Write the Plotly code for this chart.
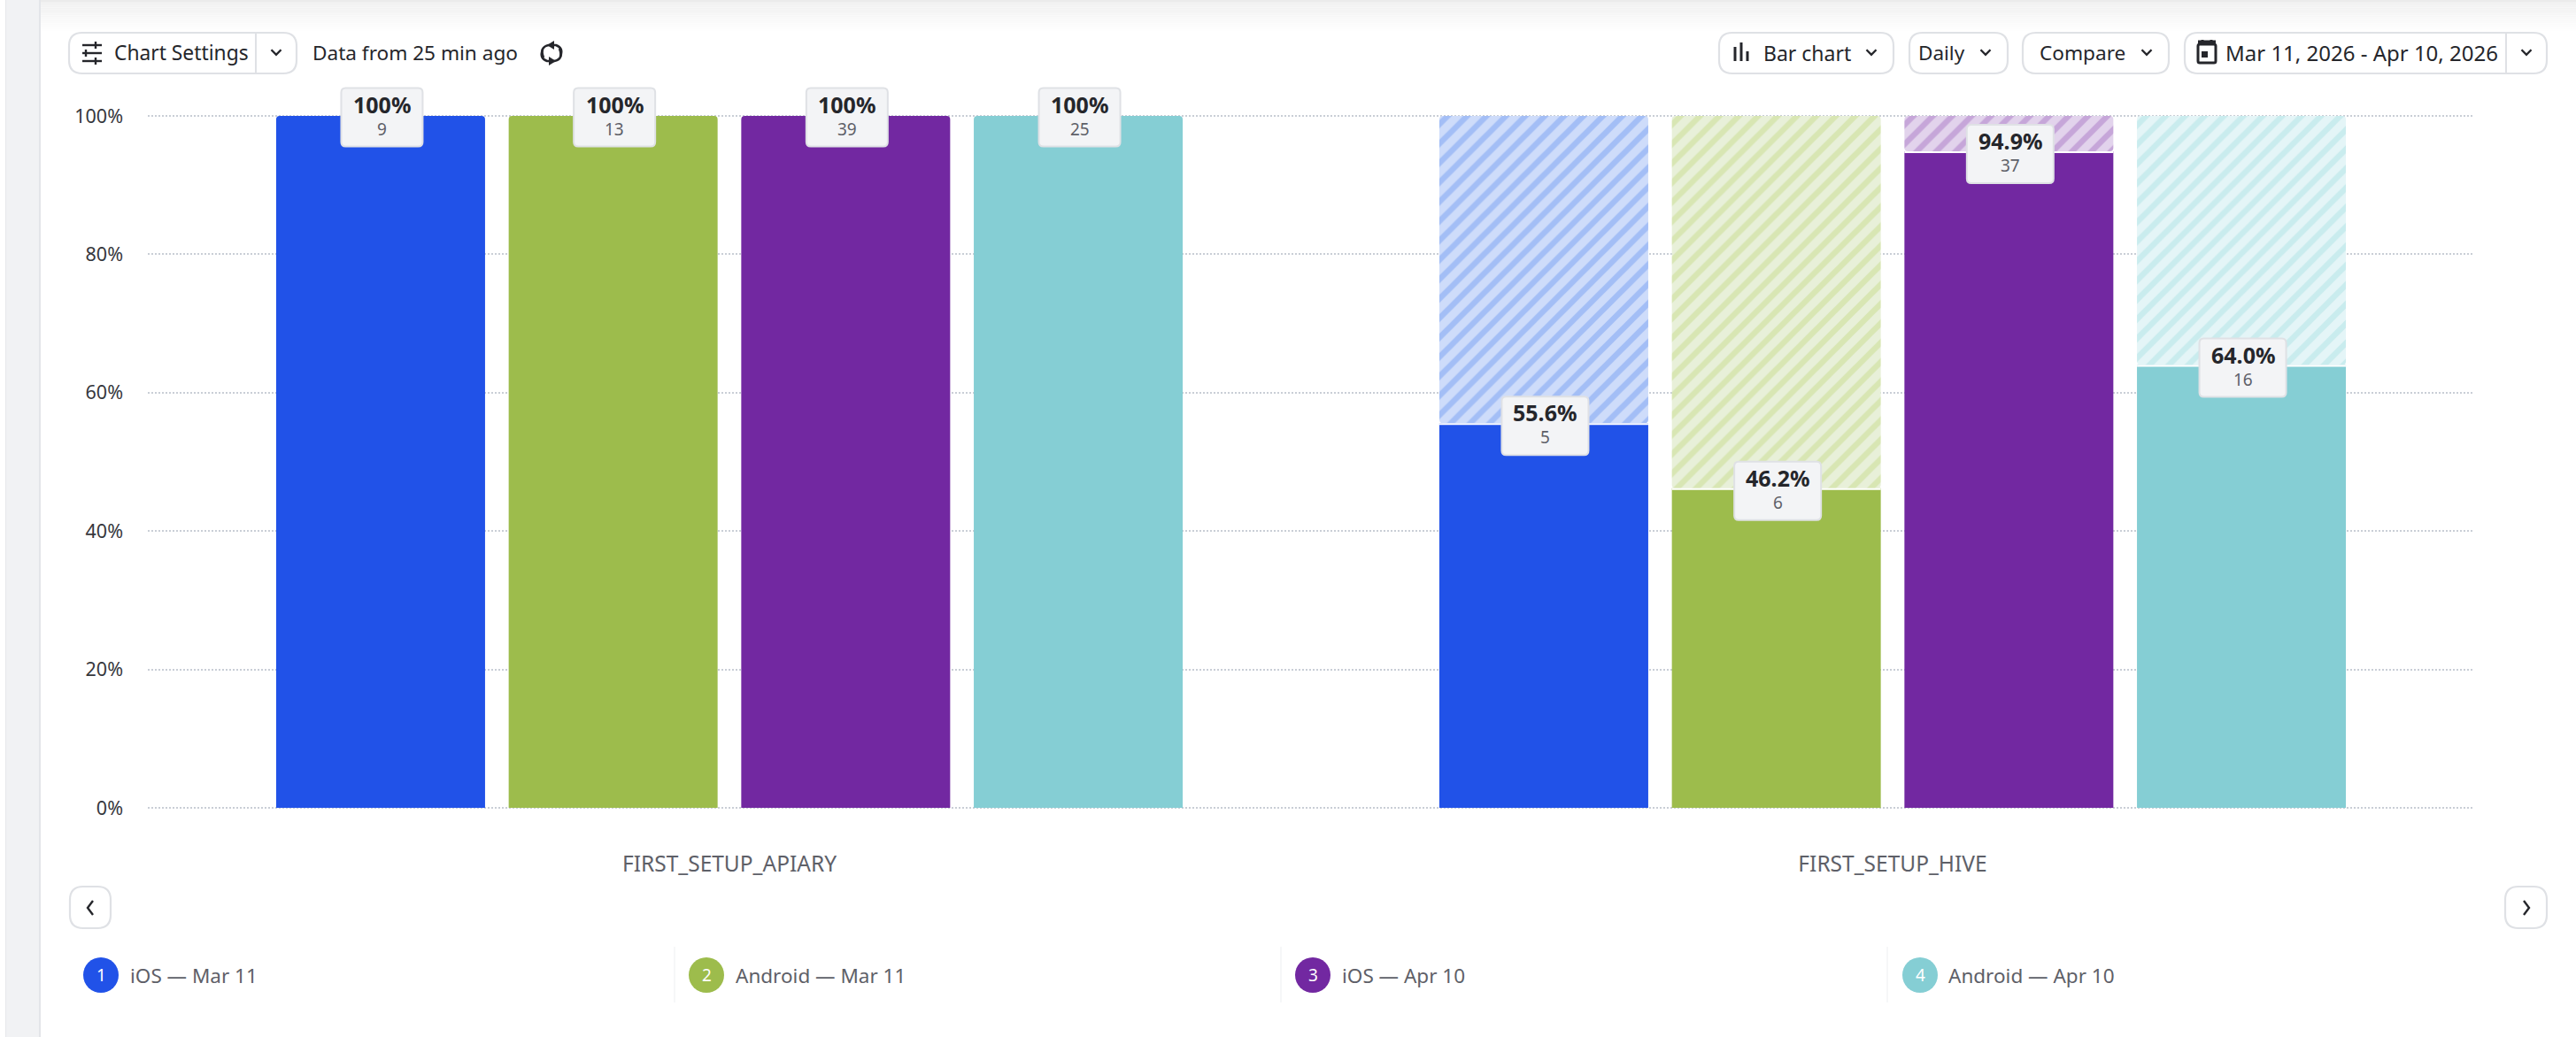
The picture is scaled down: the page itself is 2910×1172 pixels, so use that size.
import plotly.graph_objects as go

# ---- chart data ----
categories = ["FIRST_SETUP_APIARY", "FIRST_SETUP_HIVE"]
series_names = ["iOS — Mar 11", "Android — Mar 11", "iOS — Apr 10", "Android — Apr 10"]
apiary_pct = [100, 100, 100, 100]
hive_pct = [55.6, 46.2, 94.9, 64.0]
apiary_counts = [9, 13, 39, 25]
hive_counts = [5, 6, 37, 16]
pct_labels = [["100%", "100%", "100%", "100%"], ["55.6%", "46.2%", "94.9%", "64.0%"]]
y_ticks = [0, 20, 40, 60, 80, 100]

# ---- palette ----
solid = ["#2152E8", "#9DBC4C", "#7228A1", "#85CED4"]
hatch_bg = ["#CEDCFA", "#E8F0D9", "#E2D3EC", "#E4F5F7"]
hatch_fg = ["#A3BEF6", "#D8E6B3", "#C6A6D9", "#C9ECEE"]
INK = "#25262B"
MUTED = "#5E6068"
EDGE = "#DFE1E5"
FONT = "Noto Sans"

# ---- canvas and plot area, in page pixels ----
W, H = 2910, 1172
LEFT, RIGHT = 167, 2795
Y100, Y0 = 131, 913          # rows of the 100% and 0% gridlines
PAD_TOP, PAD_BOTTOM = 44, 8  # headroom so the chips on the top line stay inside the plot
TOP, BOTTOM = Y100 - PAD_TOP, Y0 + PAD_BOTTOM
PX_PER_PCT = (Y0 - Y100) / 100
SLOT = 262.7     # horizontal step between neighbouring bars
BAR_WIDTH = 236
SEAM = 2         # white seam at the top of a solid bar, in pixels
CHIP_NUDGE = 1.5 # chips sit slightly right of the bar's centre


def X(px):
    return (px - LEFT) / (RIGHT - LEFT)


def Y(py):
    return (BOTTOM - py) / (BOTTOM - TOP)


def pt(x, y):
    return f"{X(x):.6f},{Y(y):.6f}"


def rounded(x0, y0, x1, y1, r):
    return (
        f"M{pt(x0 + r, y0)} L{pt(x1 - r, y0)} Q{pt(x1, y0)} {pt(x1, y0 + r)} "
        f"L{pt(x1, y1 - r)} Q{pt(x1, y1)} {pt(x1 - r, y1)} "
        f"L{pt(x0 + r, y1)} Q{pt(x0, y1)} {pt(x0, y1 - r)} "
        f"L{pt(x0, y0 + r)} Q{pt(x0, y0)} {pt(x0 + r, y0)} Z"
    )


def polyline(points):
    return "M" + " L".join(pt(x, y) for x, y in points)


shapes = []
notes = []


def paper_shape(path, line=None, width=0, fill="rgba(0,0,0,0)", layer="above"):
    shapes.append(dict(
        type="path", xref="paper", yref="paper", path=path, fillcolor=fill, layer=layer,
        line=dict(color=line or "rgba(0,0,0,0)", width=width),
    ))


def rect(x0, y0, x1, y1, fill, layer="below"):
    shapes.append(dict(
        type="rect", xref="paper", yref="paper", x0=X(x0), x1=X(x1), y0=Y(y0), y1=Y(y1),
        fillcolor=fill, line=dict(width=0), layer=layer,
    ))


def label(x, y, text, size=23, color=INK, anchor="left"):
    notes.append(dict(
        xref="paper", yref="paper", x=X(x), y=Y(y), text=text, showarrow=False,
        xanchor=anchor, yanchor="middle", font=dict(family=FONT, size=size, color=color),
    ))


def chevron(cx, cy, size=5.5, color=INK):
    paper_shape(polyline([(cx - size, cy - size / 2), (cx, cy + size / 2), (cx + size, cy - size / 2)]),
                line=color, width=2.4)


def button(x0, x1, y0=37, y1=83, divider=None, r=15):
    paper_shape(rounded(x0, y0, x1, y1, r), line=EDGE, width=2.2, fill="#FFFFFF")
    if divider:
        paper_shape(polyline([(divider, y0), (divider, y1)]), line=EDGE, width=2)


# ---- page chrome: left rail and soft shadow along the top ----
rect(6, 0, 45, H, "#F1F2F4")
rect(6, 0, 7, H, "#E6E8EB")
rect(44, 0, 46, H, "#E3E5E9")
STEPS = 16
for k in range(STEPS):
    shade = int(241 + (255 - 241) * k / (STEPS - 1))
    rect(46, 2 + k * 2.2, W, 2 + (k + 1) * 2.2, f"rgb({shade},{shade},{shade})")
rect(46, 0, W, 2, "#EBEBEB")

# ---- toolbar ----
button(78, 335, divider=289)
for ly, kx in [(51, 108), (60, 97), (69, 108)]:
    paper_shape(polyline([(93, ly), (115, ly)]), line=INK, width=2.4)
    paper_shape(polyline([(kx, ly - 4), (kx, ly + 4)]), line=INK, width=2.4)
label(127, 60, "Chart Settings", size=22.8)
chevron(312, 59)
label(351, 60, "Data from 25 min ago", size=22.6)
paper_shape(f"M{pt(614, 65)} Q{pt(609, 53)} {pt(620, 51)} L{pt(628, 51)} Q{pt(637, 54)} {pt(633, 64)}",
            line=INK, width=2.6)
paper_shape(f"M{pt(632, 55)} Q{pt(637, 67)} {pt(626, 69)} L{pt(618, 69)} Q{pt(609, 66)} {pt(613, 56)}",
            line=INK, width=2.6)
paper_shape(polyline([(626, 46), (618, 51), (626, 56)]) + " Z", fill=INK)
paper_shape(polyline([(620, 64), (628, 69), (620, 74)]) + " Z", fill=INK)

button(1942, 2139)
for bx, top in [(1960, 53), (1967, 48), (1974, 58)]:
    paper_shape(polyline([(bx, top), (bx, 69)]), line=INK, width=3)
label(1990, 60, "Bar chart")
chevron(2114, 59)
button(2157, 2268)
label(2165, 60, "Daily", size=22.5)
chevron(2243, 59)
button(2285, 2450)
label(2302, 60, "Compare", size=22.6)
chevron(2425, 59)
button(2468, 2877, divider=2831)
paper_shape(rounded(2483, 50, 2503, 71, 2), line=INK, width=3)
paper_shape(polyline([(2483, 48), (2503, 48)]), line=INK, width=5)
paper_shape(polyline([(2488, 45), (2488, 51)]), line=INK, width=3)
paper_shape(polyline([(2498, 45), (2498, 51)]), line=INK, width=3)
rect(2487, 58, 2494, 65, INK, layer="above")
label(2512, 60, "Mar 11, 2026 - Apr 10, 2026", size=24)
chevron(2854, 59)

# ---- pager buttons under the plot ----
button(79, 125, 1002, 1049)
paper_shape(polyline([(105, 1018), (99, 1026), (105, 1034)]), line=INK, width=2.4)
button(2830, 2877, 1002, 1049)
paper_shape(polyline([(2851, 1018), (2857, 1026), (2851, 1034)]), line=INK, width=2.4)

# ---- legend row ----
legend_circle_x = [114, 798, 1483, 2169]
legend_text_x = [145, 829, 1514, 2199]
legend_divider_x = [None, 762, 1447, 2132]
for i, name in enumerate(series_names):
    if legend_divider_x[i]:
        rect(legend_divider_x[i] - 0.5, 1070, legend_divider_x[i] + 0.5, 1133, "#EEEFF1")
    cx = legend_circle_x[i]
    shapes.append(dict(
        type="circle", xref="paper", yref="paper", x0=X(cx - 20), x1=X(cx + 20),
        y0=Y(1122), y1=Y(1082), fillcolor=solid[i], line=dict(width=0), layer="above",
    ))
    label(cx, 1102, str(i + 1), size=19, color="#FFFFFF", anchor="center")
    label(legend_text_x[i], 1102, name, size=22.5, color=MUTED)

# ---- bars ----
fig = go.Figure()
pct_by_category = [apiary_pct, hive_pct]
count_by_category = [apiary_counts, hive_counts]
for i, name in enumerate(series_names):
    for j, cat in enumerate(categories):
        v = pct_by_category[j][i]
        fig.add_trace(go.Bar(
            x=[cat], y=[v], name=name, offsetgroup=str(i), alignmentgroup="all", showlegend=False,
            marker=dict(color=solid[i], line=dict(width=0), cornerradius=4 if v >= 100 else 0),
        ))
        if v < 100:
            fig.add_trace(go.Bar(
                x=[cat], y=[100 - v], base=[v], offsetgroup=str(i),
                alignmentgroup="all", showlegend=False,
                marker=dict(
                    color=hatch_bg[i], cornerradius=4, line=dict(width=0),
                    pattern=dict(shape="/", bgcolor=hatch_bg[i], fgcolor=hatch_fg[i],
                                 fgopacity=1, size=15.5, solidity=0.42),
                ),
            ))
            # white seam between the solid bar and its hatched remainder
            shift = (i - 1.5) * SLOT
            half = BAR_WIDTH / 2
            shapes.append(dict(
                type="path", xref="x", yref="y", xsizemode="pixel", ysizemode="pixel",
                xanchor=cat, yanchor=v, layer="above", fillcolor="#FFFFFF", line=dict(width=0),
                path=(f"M{shift - half},0 L{shift + half},0 L{shift + half},{-SEAM} "
                      f"L{shift - half},{-SEAM} Z"),
            ))

# ---- value chips centred on each bar's top ----
for j, cat in enumerate(categories):
    for i in range(len(series_names)):
        v = pct_by_category[j][i]
        shift = (i - 1.5) * SLOT + CHIP_NUDGE
        half_w = 46 if v >= 100 else 49
        cy = -1.5 if v >= 100 else -3
        up, down = 33 + cy, -33 + cy
        r = 5
        l, rt = shift - half_w, shift + half_w
        shapes.append(dict(
            type="path", xref="x", yref="y", xsizemode="pixel", ysizemode="pixel",
            xanchor=cat, yanchor=v, layer="above", fillcolor="#F3F4F6",
            line=dict(color=EDGE, width=2),
            path=(f"M{l + r},{up} L{rt - r},{up} Q{rt},{up} {rt},{up - r} L{rt},{down + r} "
                  f"Q{rt},{down} {rt - r},{down} L{l + r},{down} Q{l},{down} {l},{down + r} "
                  f"L{l},{up - r} Q{l},{up} {l + r},{up} Z"),
        ))
        notes.append(dict(
            xref="x", yref="y", x=cat, y=v, xshift=shift, yshift=15 + cy, showarrow=False,
            text=f"<b>{pct_labels[j][i]}</b>", font=dict(family=FONT, size=25, color=INK),
        ))
        notes.append(dict(
            xref="x", yref="y", x=cat, y=v, xshift=shift, yshift=-13 + cy, showarrow=False,
            text=str(count_by_category[j][i]), font=dict(family=FONT, size=19, color=MUTED),
        ))

fig.update_layout(
    width=W, height=H, autosize=False,
    margin=dict(l=LEFT, r=W - RIGHT, t=TOP, b=H - BOTTOM, pad=0),
    paper_bgcolor="#FFFFFF", plot_bgcolor="#FFFFFF",
    barmode="group", bargap=1 - 8 * SLOT / (RIGHT - LEFT), bargroupgap=1 - BAR_WIDTH / SLOT,
    showlegend=False, shapes=shapes, annotations=notes,
    font=dict(family=FONT, color=MUTED),
    xaxis=dict(
        type="category", categoryorder="array", categoryarray=categories, showgrid=False,
        zeroline=False, showline=False, ticks="", ticklabelstandoff=38,
        tickfont=dict(family=FONT, size=24.5, color=MUTED),
    ),
    yaxis=dict(
        range=[-PAD_BOTTOM / PX_PER_PCT, 100 + PAD_TOP / PX_PER_PCT],
        tickmode="array", tickvals=y_ticks, ticktext=[f"{t}%" for t in y_ticks],
        showgrid=True, gridcolor="#C9CED6", gridwidth=2, griddash="2px,2px", zeroline=False,
        showline=False, ticks="", ticklabelstandoff=27,
        tickfont=dict(family=FONT, size=21.5, color="#36373C"),
    ),
)

fig.write_html("out.html", config={"displayModeBar": False})
